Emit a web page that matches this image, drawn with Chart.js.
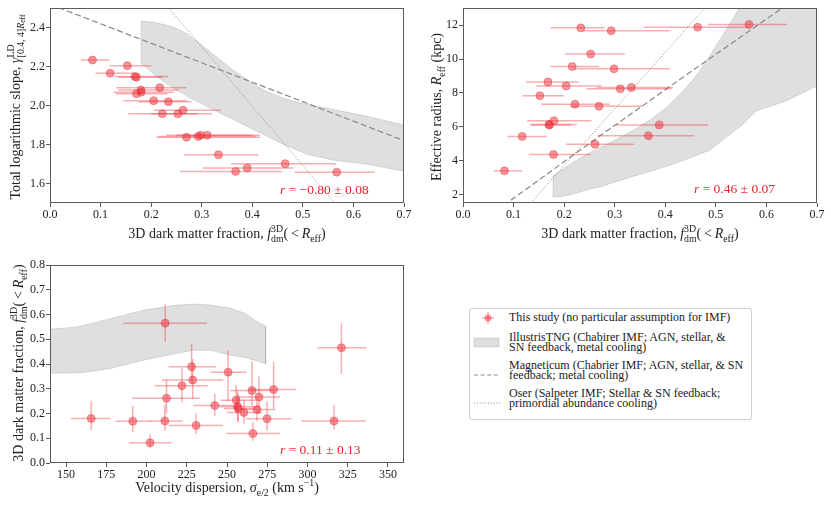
<!DOCTYPE html>
<html>
<head>
<meta charset="utf-8">
<script src="https://cdn.jsdelivr.net/npm/chart.js@4.4.0/dist/chart.umd.min.js"></script>
<style>
  body { margin: 0; background: #fff; width: 831px; height: 506px; position: relative; overflow: hidden; }
  canvas { position: absolute; }
  #c1 { left: 0; top: 0; }
  #c2 { left: 415px; top: 0; }
  #c3 { left: 0; top: 250px; }
  #legend { position: absolute; left: 469px; top: 308px; width: 281px; height: 110px;
            border: 1px solid #d0d0d0; border-radius: 3px; font-family: "Liberation Serif", serif;
            font-size: 12px; line-height: 9.8px; color: #222; }
  #legend .txt { position: absolute; left: 39px; white-space: nowrap; }
  #legend svg { position: absolute; left: 3px; }
</style>
</head>
<body>
<canvas id="c1" width="415" height="250"></canvas>
<canvas id="c2" width="416" height="250"></canvas>
<canvas id="c3" width="415" height="256"></canvas>

<div id="legend">
  <svg style="top:2px" width="28" height="14">
    <line x1="9" y1="7" x2="21" y2="7" stroke="rgba(235,45,55,0.4)" stroke-width="1.5"/>
    <line x1="15" y1="1" x2="15" y2="13" stroke="rgba(235,45,55,0.4)" stroke-width="1.5"/>
    <circle cx="15" cy="7" r="3.5" fill="rgba(235,45,55,0.5)"/>
  </svg>
  <div class="txt" style="top:4px">This study (no particular assumption for IMF)</div>

  <svg style="top:28px" width="28" height="12">
    <rect x="1" y="1" width="25" height="9" fill="rgba(128,128,128,0.25)" stroke="rgba(128,128,128,0.3)" stroke-width="0.8"/>
  </svg>
  <div class="txt" style="top:24px">IllustrisTNG (Chabirer IMF; AGN, stellar, &amp;<br>SN feedback, metal cooling)</div>

  <svg style="top:60px" width="28" height="12">
    <line x1="1" y1="6" x2="27" y2="6" stroke="#888" stroke-width="1.2" stroke-dasharray="4,2.6"/>
  </svg>
  <div class="txt" style="top:52px">Magneticum (Chabrier IMF; AGN, stellar, &amp; SN<br>feedback; metal cooling)</div>

  <svg style="top:88px" width="28" height="12">
    <line x1="1" y1="6" x2="27" y2="6" stroke="#888" stroke-width="1" stroke-dasharray="1,1.8"/>
  </svg>
  <div class="txt" style="top:80px">Oser (Salpeter IMF; Stellar &amp; SN feedback;<br>primordial abundance cooling)</div>
</div>

<script>
// ---------- top left: dark matter fraction vs total slope ----------
const fdmA   = [0.084, 0.153, 0.119, 0.168, 0.171, 0.217, 0.180, 0.180, 0.171, 0.205, 0.234, 0.263,
                0.253, 0.222, 0.270, 0.293, 0.298, 0.311, 0.333, 0.465, 0.390, 0.367, 0.567];
const fdmLoA = [0.061, 0.118, 0.090, 0.128, 0.135, 0.131, 0.135, 0.125, 0.130, 0.145, 0.175, 0.205,
                0.200, 0.155, 0.210, 0.215, 0.230, 0.250, 0.265, 0.358, 0.302, 0.257, 0.484];
const fdmHiA = [0.118, 0.200, 0.167, 0.234, 0.222, 0.270, 0.255, 0.245, 0.232, 0.270, 0.280, 0.338,
                0.320, 0.292, 0.415, 0.408, 0.400, 0.415, 0.412, 0.566, 0.481, 0.458, 0.642];
const gammaA = [2.234, 2.205, 2.166, 2.149, 2.146, 2.092, 2.080, 2.068, 2.061, 2.025, 2.020, 1.976,
                1.958, 1.958, 1.838, 1.842, 1.848, 1.848, 1.748, 1.702, 1.680, 1.662, 1.658];

// IllustrisTNG band (upper edge left->right, lower edge left->right)
const tngUpXA = [0.18, 0.211, 0.244, 0.27, 0.296, 0.329, 0.362, 0.395, 0.428, 0.461, 0.494, 0.56, 0.625, 0.70];
const tngUpYA = [2.434, 2.425, 2.403, 2.37, 2.319, 2.251, 2.183, 2.124, 2.073, 2.039, 2.014, 1.98, 1.946, 1.90];
const tngLoXA = [0.18, 0.211, 0.244, 0.283, 0.329, 0.375, 0.415, 0.461, 0.507, 0.56, 0.625, 0.70];
const tngLoYA = [2.217, 2.149, 2.09, 2.031, 1.971, 1.912, 1.861, 1.802, 1.751, 1.72, 1.70, 1.663];
const magXA  = [0.0, 0.7];
const magYA  = [2.52, 1.82];
const oserXA = [0.22, 0.58];
const oserYA = [2.546, 1.448];

// ---------- top right: dark matter fraction vs effective radius ----------
const fdmB   = [0.082, 0.117, 0.152, 0.168, 0.170, 0.171, 0.180, 0.179, 0.204, 0.216, 0.2215, 0.233,
                0.2525, 0.261, 0.269, 0.293, 0.2986, 0.311, 0.333, 0.3665, 0.388, 0.464, 0.5656];
const fdmLoB = [0.061, 0.088, 0.117, 0.125, 0.132, 0.135, 0.127, 0.130, 0.145, 0.173, 0.155, 0.173,
                0.202, 0.204, 0.211, 0.237, 0.221, 0.244, 0.264, 0.266, 0.303, 0.358, 0.484];
const fdmHiB = [0.117, 0.166, 0.200, 0.229, 0.225, 0.214, 0.254, 0.252, 0.274, 0.269, 0.290, 0.280,
                0.320, 0.338, 0.355, 0.409, 0.409, 0.412, 0.415, 0.457, 0.485, 0.566, 0.641];
const reffB  = [3.40, 5.43, 7.83, 8.65, 6.14, 6.10, 6.36, 4.36, 8.41, 9.56, 7.33, 11.84,
                10.29, 4.97, 7.21, 11.67, 9.42, 8.24, 8.32, 5.47, 6.11, 11.88, 12.04];

const tngUpXB = [0.178, 0.214, 0.26, 0.30, 0.336, 0.37, 0.402, 0.435, 0.468, 0.501, 0.534, 0.55, 0.56, 0.72];
const tngUpYB = [3.10, 3.84, 4.62, 5.2, 5.78, 6.4, 7.13, 8.1, 9.27, 10.82, 12.37, 13.2, 13.6, 13.6];
const tngLoXB = [0.178, 0.20, 0.22, 0.247, 0.27, 0.336, 0.402, 0.455, 0.488, 0.521, 0.554, 0.58, 0.639, 0.692, 0.72];
const tngLoYB = [1.85, 1.9, 2.05, 2.29, 2.45, 3.06, 3.65, 4.23, 4.62, 5.39, 6.17, 6.94, 7.52, 8.30, 8.6];
const magXB  = [0.08, 0.27, 0.46, 0.65];
const magYB  = [1.35, 5.45, 9.45, 13.4];
const oserXB = [0.13, 0.49];
const oserYB = [1.38, 13.4];

// ---------- bottom: velocity dispersion vs dark matter fraction ----------
const sigC   = [165.6, 191.4, 202.2, 211.4, 211.6, 212.4, 222.0, 228.0, 228.7, 230.8, 242.4, 250.7,
                255.7, 256.6, 257.0, 260.5, 265.5, 266.1, 268.6, 269.9, 274.9, 279.0, 316.5, 321.1];
const sigLoC = [153.0, 180.8, 189.0, 201.8, 185.6, 191.0, 205.0, 213.7, 209.5, 214.0, 229.0, 240.0,
                246.0, 245.0, 248.0, 250.0, 252.0, 249.5, 258.0, 257.0, 262.0, 264.0, 296.3, 306.3];
const sigHiC = [177.7, 202.7, 215.6, 222.4, 237.4, 233.0, 238.0, 243.3, 247.8, 247.4, 256.0, 262.0,
                268.0, 270.0, 268.0, 272.0, 279.0, 282.8, 280.0, 283.0, 290.0, 293.0, 336.3, 336.5];
const fdmC   = [0.180, 0.169, 0.082, 0.170, 0.565, 0.262, 0.312, 0.389, 0.335, 0.152, 0.232, 0.367,
                0.254, 0.227, 0.220, 0.204, 0.293, 0.119, 0.216, 0.267, 0.179, 0.297, 0.170, 0.466];
const fdmLoC = [0.132, 0.125, 0.060, 0.130, 0.490, 0.200, 0.245, 0.320, 0.260, 0.117, 0.190, 0.250,
                0.200, 0.170, 0.165, 0.160, 0.230, 0.090, 0.170, 0.200, 0.130, 0.220, 0.135, 0.360];
const fdmHiC = [0.252, 0.230, 0.115, 0.235, 0.640, 0.335, 0.385, 0.480, 0.420, 0.200, 0.280, 0.455,
                0.315, 0.290, 0.280, 0.255, 0.410, 0.165, 0.270, 0.350, 0.250, 0.410, 0.235, 0.565];

const tngUpXC = [139, 157, 178, 198.5, 219, 230, 240, 252.6, 261, 268, 274];
const tngUpYC = [0.54, 0.55, 0.584, 0.618, 0.638, 0.642, 0.638, 0.625, 0.605, 0.575, 0.553];
const tngLoXC = [139, 160, 177.7, 198.5, 219, 229, 240, 251.6, 262, 274];
const tngLoYC = [0.362, 0.365, 0.382, 0.416, 0.443, 0.456, 0.456, 0.436, 0.425, 0.402];

// ---------- ticks ----------
const fdmTicks   = [0, 0.1, 0.2, 0.3, 0.4, 0.5, 0.6, 0.7];
const gammaTicks = [1.6, 1.8, 2.0, 2.2, 2.4];
const reffTicks  = [2, 4, 6, 8, 10, 12];
const sigTicks   = [150, 175, 200, 225, 250, 275, 300, 325, 350];
const fdmYTicks  = [0, 0.1, 0.2, 0.3, 0.4, 0.5, 0.6, 0.7, 0.8];

const SERIF = '"Liberation Serif", "Times New Roman", serif';
const RED = '#e6262e';

function pts(xs, ys) { return xs.map((v, i) => ({ x: v, y: ys[i] })); }
function band(ux, uy, lx, ly) {
  const up = pts(ux, uy);
  const lo = pts(lx, ly).reverse();
  return up.concat(lo, [up[0]]);
}

// rich text: sub/superscripts, st 'a' = start stack, 'b' = back to stack start, 'e' = end stack
function drawRich(ctx, segs, size, x, y, rot, align) {
  const scale = [1, 0.7, 0.55];
  function run(draw) {
    let px = 0, sx = 0, smax = 0;
    for (const s of segs) {
      const lv = s.lv || 0;
      ctx.font = (s.it ? 'italic ' : '') + (size * scale[lv]) + 'px ' + SERIF;
      const st = s.st || '';
      if (st.includes('a')) sx = px;
      if (st.includes('b')) { smax = px; px = sx; }
      if (draw) ctx.fillText(s.t, px, (s.dy || 0) * size);
      px += ctx.measureText(s.t).width;
      if (st.includes('e')) px = Math.max(px, smax);
    }
    return px;
  }
  ctx.save();
  ctx.textAlign = 'left';
  ctx.textBaseline = 'alphabetic';
  ctx.translate(x, y);
  if (rot) ctx.rotate(-Math.PI / 2);
  const w = run(false);
  if (align !== 'left') ctx.translate(-w / 2, 0);
  run(true);
  ctx.restore();
}

const fdmTitle = [
  { t: '3D dark matter fraction, ' }, { t: 'f', it: 1 },
  { t: '3D', lv: 1, dy: -0.42, st: 'a' }, { t: 'dm', lv: 1, dy: 0.25, st: 'be' },
  { t: '(\u2009<\u2009' }, { t: 'R', it: 1 }, { t: 'eff', lv: 1, dy: 0.25 }, { t: ')' }
];
const gammaTitle = [
  { t: 'Total logarithmic slope, ' }, { t: 'γ', it: 1 },
  { t: 'LD', lv: 1, dy: -0.45, st: 'a' }, { t: '[0.4, 4]', lv: 1, dy: 0.25, st: 'b' },
  { t: 'R', lv: 1, it: 1, dy: 0.25 }, { t: 'eff', lv: 2, dy: 0.38, st: 'e' }
];
const reffTitle = [{ t: 'Effective radius, ' }, { t: 'R', it: 1 }, { t: 'eff', lv: 1, dy: 0.25 }, { t: ' (kpc)' }];
const sigTitle = [
  { t: 'Velocity dispersion, ' }, { t: 'σ', it: 1 }, { t: 'e/2', lv: 1, dy: 0.25 },
  { t: ' (km s' }, { t: '−1', lv: 1, dy: -0.42 }, { t: ')' }
];

const errorBars = {
  id: 'errorBars',
  beforeDatasetDraw(chart, args) {
    const ds = chart.data.datasets[args.index];
    if (!ds.xLo && !ds.yLo) return;
    const { ctx, chartArea: a, scales: { x, y } } = chart;
    ctx.save();
    ctx.beginPath();
    ctx.rect(a.left, a.top, a.width, a.height);
    ctx.clip();
    ctx.strokeStyle = 'rgba(235,45,55,0.38)';
    ctx.lineWidth = 1.5;
    ds.data.forEach((p, i) => {
      const px = x.getPixelForValue(p.x), py = y.getPixelForValue(p.y);
      ctx.beginPath();
      if (ds.xLo) { ctx.moveTo(x.getPixelForValue(ds.xLo[i]), py); ctx.lineTo(x.getPixelForValue(ds.xHi[i]), py); }
      if (ds.yLo) { ctx.moveTo(px, y.getPixelForValue(ds.yLo[i])); ctx.lineTo(px, y.getPixelForValue(ds.yHi[i])); }
      ctx.stroke();
    });
    ctx.restore();
  }
};

const frame = {
  id: 'frame',
  afterDatasetsDraw(chart) {
    const { ctx, chartArea: a } = chart;
    ctx.save();
    ctx.strokeStyle = '#5a5a5a';
    ctx.lineWidth = 1;
    ctx.strokeRect(Math.round(a.left) + 0.5, Math.round(a.top) + 0.5,
                   Math.round(a.width) - 1, Math.round(a.height) - 1);
    ctx.restore();
  }
};

function labels(t) {
  return {
    id: 'labels',
    afterDraw(chart) {
      const ctx = chart.ctx;
      ctx.fillStyle = '#222';
      drawRich(ctx, t.x[0], 14, t.x[1], t.x[2], false);
      drawRich(ctx, t.y[0], 14, t.y[1], t.y[2], true);
      ctx.fillStyle = RED;
      drawRich(ctx, t.note[0], 13.5, t.note[1], t.note[2], false, 'left');
    }
  };
}

function axis(min, max, ticks, fmt, size, isX) {
  return {
    type: 'linear', min: min, max: max,
    afterBuildTicks: s => { s.ticks = ticks.map(v => ({ value: v })); },
    afterFit: s => { if (isX) s.height = size; else s.width = size; },
    ticks: { callback: fmt, font: { family: SERIF, size: 12 }, color: '#222', padding: 1,
             autoSkip: false, maxRotation: 0 },
    grid: { display: true, drawOnChartArea: false, drawTicks: true, tickLength: 4, color: '#5a5a5a', lineWidth: 1 },
    border: { display: false }
  };
}

function datasets(points, xLo, xHi, yLo, yHi, tng, mag, oser) {
  const list = [{
    data: points, pointRadius: 4, pointHoverRadius: 4,
    pointBackgroundColor: 'rgba(235,45,55,0.5)', pointBorderColor: 'rgba(235,45,55,0.5)', pointBorderWidth: 0.8,
    showLine: false, xLo: xLo, xHi: xHi, yLo: yLo, yHi: yHi
  }];
  if (oser) list.push({ data: oser, showLine: true, pointRadius: 0, borderColor: '#888', borderWidth: 1,
                        borderDash: [1, 1.8], fill: false });
  if (mag) list.push({ data: mag, showLine: true, pointRadius: 0, borderColor: '#888', borderWidth: 1.2,
                       borderDash: [6, 3], fill: false });
  list.push({ data: tng, showLine: true, pointRadius: 0, borderColor: 'rgba(128,128,128,0.3)', borderWidth: 0.8,
              backgroundColor: 'rgba(128,128,128,0.25)', fill: 'shape', tension: 0 });
  return list;
}

function make(id, dsets, scales, pad, text) {
  return new Chart(document.getElementById(id), {
    type: 'scatter',
    data: { datasets: dsets },
    options: {
      responsive: false, animation: false, devicePixelRatio: 1,
      layout: { padding: pad },
      plugins: { legend: { display: false }, tooltip: { enabled: false } },
      scales: scales
    },
    plugins: [errorBars, frame, labels(text)]
  });
}

const f1 = v => v.toFixed(1);
const f0 = v => v.toFixed(0);

make('c1',
  datasets(pts(fdmA, gammaA), fdmLoA, fdmHiA, null, null,
           band(tngUpXA, tngUpYA, tngLoXA, tngLoYA), pts(magXA, magYA), pts(oserXA, oserYA)),
  { x: axis(0, 0.7, fdmTicks, f1, 47, true), y: axis(1.5, 2.5, gammaTicks, f1, 50, false) },
  { left: 0, right: 11, top: 6, bottom: 0 },
  { x: [fdmTitle, 227, 238], y: [gammaTitle, 20, 107],
    note: [[{ t: 'r', it: 1 }, { t: ' = −0.80 ± 0.08' }], 280, 194] });

make('c2',
  datasets(pts(fdmB, reffB), fdmLoB, fdmHiB, null, null,
           band(tngUpXB, tngUpYB, tngLoXB, tngLoYB), pts(magXB, magYB), pts(oserXB, oserYB)),
  { x: axis(0, 0.7, fdmTicks, f1, 47, true), y: axis(1.5, 13, reffTicks, f0, 48, false) },
  { left: 0, right: 14, top: 6, bottom: 0 },
  { x: [fdmTitle, 225, 238], y: [reffTitle, 26, 107],
    note: [[{ t: 'r', it: 1 }, { t: ' = 0.46 ± 0.07' }], 279, 193] });

make('c3',
  datasets(pts(sigC, fdmC), sigLoC, sigHiC, fdmLoC, fdmHiC,
           band(tngUpXC, tngUpYC, tngLoXC, tngLoYC), null, null),
  { x: axis(140, 360, sigTicks, f0, 43, true), y: axis(0, 0.8, fdmYTicks, f1, 50, false) },
  { left: 0, right: 11, top: 15, bottom: 0 },
  { x: [sigTitle, 227, 242], y: [fdmTitle, 23, 113],
    note: [[{ t: 'r', it: 1 }, { t: ' = 0.11 ± 0.13' }], 280, 204] });
</script>
</body>
</html>
